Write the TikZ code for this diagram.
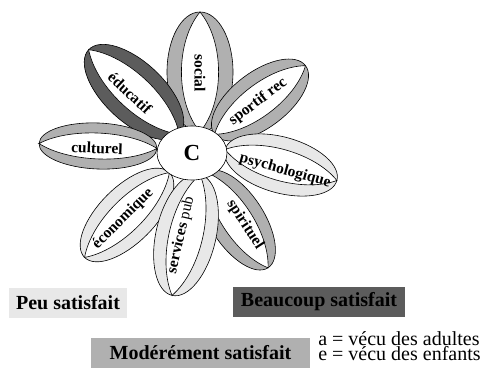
\documentclass[tikz,border=0pt]{standalone}
\usepackage{fontspec}
\setmainfont{Liberation Serif}
\usetikzlibrary{shapes.geometric}

\definecolor{peu}{gray}{0.91}
\definecolor{modere}{gray}{0.69}
\definecolor{beaucoup}{gray}{0.36}

% petal: x, y, angle, half length, half width, colour a, colour e
\newcommand{\petal}[7]{%
  \begin{scope}[shift={(#1,#2)}, rotate=#3]
    \fill[#6] (0,0) ellipse ({#4} and {#5});
    \begin{scope}
      \clip (-#4,0) rectangle (#4,-#5);
      \fill[#7] (0,0) ellipse ({#4} and {#5});
    \end{scope}
    \draw (0,0) ellipse ({#4} and {#5});
    \draw[fill=white] (-#4,0) .. controls (-#4/2,0.75*#5) and (#4/2,0.75*#5) .. (#4,0)
      .. controls (#4/2,-0.75*#5) and (-#4/2,-0.75*#5) .. cycle;
  \end{scope}}

\tikzset{
  petallabel/.style={inner sep=0pt, font=\fontsize{15.5}{15.5}\selectfont\bfseries},
  legendbox/.style={inner sep=0pt, minimum height=30pt, font=\fontsize{20}{20}\selectfont\bfseries},
  legendtext/.style={inner sep=0pt, anchor=base west, font=\fontsize{20}{20}\selectfont}
}

\begin{document}
\begin{tikzpicture}[x=1pt, y=1pt, line width=0.6pt]
  \useasboundingbox (0,0) rectangle (486,371);

  % petals
  \petal{200}{299}{-90}{60}{33}{modere}{modere}
  \petal{134}{279}{-43}{62}{30}{beaucoup}{beaucoup}
  \petal{98}{225}{-2.4}{59}{23}{modere}{modere}
  \petal{260}{271}{37}{57}{28}{modere}{modere}
  \petal{237}{151}{-57}{57}{27}{modere}{modere}
  \petal{281}{206}{-15.5}{58}{28}{peu}{peu}
  \petal{127}{156}{45}{60}{28}{peu}{peu}
  \petal{186}{136}{77}{62}{30}{peu}{peu}

  \node[petallabel, rotate=-90] (social) at (200,298) {social};
  \node[petallabel, rotate=-43] (educatif) at (130,278) {éducatif};
  \node[petallabel, rotate=-2.4] (culturel) at (97,223) {culturel};
  \node[petallabel, rotate=37] (sportif) at (258,269) {sportif rec};
  \node[petallabel, rotate=-15.5] (psycho) at (285,200) {psychologique};
  \node[petallabel, rotate=45] (economique) at (123,152) {économique};
  \node[petallabel, rotate=77] (services) at (181,136) {services \mdseries pub};
  \node[petallabel, rotate=-57] (spirituel) at (245,146) {spirituel};

  % centre
  \node[draw, fill=white, ellipse, inner sep=0pt, minimum width=70pt, minimum height=54pt,
    font=\fontsize{23}{23}\selectfont\bfseries] (c) at (192,218) {C};

  % legend
  \node[legendbox, fill=peu, minimum width=118pt] (peu) at (68,68) {Peu satisfait};
  \node[legendbox, fill=beaucoup, minimum width=172pt] (beaucoup) at (319,69) {Beaucoup satisfait};
  \node[legendbox, fill=modere, minimum width=219pt] (modere) at (200.5,18) {Modérément satisfait};
  \node[legendtext] (adultes) at (318,25) {a = vécu des adultes};
  \node[legendtext] (enfants) at (318,10) {e = vécu des enfants};
\end{tikzpicture}
\end{document}
